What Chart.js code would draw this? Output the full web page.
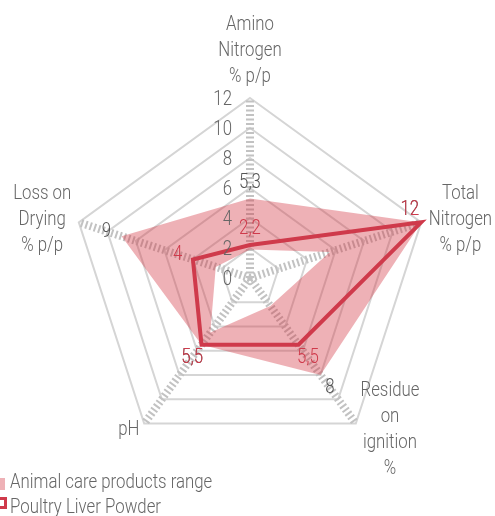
<!DOCTYPE html>
<html>
<head>
<meta charset="utf-8">
<script src="https://cdn.jsdelivr.net/npm/chart.js@4.4.1/dist/chart.umd.min.js"></script>
<style>
  body { margin: 0; background: #fff; }
  #wrap { position: relative; width: 495px; height: 516px; overflow: hidden; }
  .leg { position: absolute; left: 10px; font: 300 21px Roboto, "Liberation Sans", sans-serif; color: #666; line-height: 25px; white-space: nowrap; transform: scaleX(0.8); transform-origin: 0 0; }
  .box { position: absolute; width: 12px; height: 12px; box-sizing: border-box; }
</style>
</head>
<body>
<div id="wrap">
  <canvas id="radar" width="495" height="516"></canvas>
  <div class="box" style="left:-7px;top:478px;background:rgba(212,55,66,0.39)"></div>
  <div class="leg" style="top:469px">Animal care products range</div>
  <div class="box" style="left:-5px;top:497px;border:3px solid #cf3a4b;background:#fff"></div>
  <div class="leg" style="top:494px">Poultry Liver Powder</div>
</div>
<script>
const axisLabels = [
  ["Amino", "Nitrogen", "% p/p"],
  ["Total", "Nitrogen", "% p/p"],
  ["Residue", "on", "ignition", "%"],
  ["pH"],
  ["Loss on", "Drying", "% p/p"]
];
const tickValues = [0, 2, 4, 6, 8, 10, 12];
const rangeMax = [5.3, 12, 8, 5.5, 9];
const rangeMin = [1.9, 5.6, 2.3, 4.5, 2.4];
const poultry = [2.2, 12, 5.5, 5.5, 4];

const FONT = "300 21px Roboto, 'Liberation Sans', sans-serif";
const SX = 0.8; // squeeze to look like the condensed face of the original
const RED = "#cf3a4b";
const GREY = "#666";

const fmt = v => String(v).replace(".", ",");

function text(ctx, s, x, y) {
  ctx.save();
  ctx.translate(x, y);
  ctx.scale(SX, 1);
  ctx.fillText(s, 0, 0);
  ctx.restore();
}

// axis names round the outside, lines centred in each block
const pointLabelsPlugin = {
  id: "pointLabelsCustom",
  afterDraw(chart) {
    const { ctx } = chart;
    const r = chart.scales.r;
    ctx.save();
    ctx.font = FONT;
    ctx.fillStyle = GREY;
    ctx.textAlign = "center";
    ctx.textBaseline = "middle";
    const lh = 26;
    axisLabels.forEach((lines, i) => {
      const p = r.getPointPosition(i, r.drawingArea + 8);
      const w = Math.max(...lines.map(l => ctx.measureText(l).width)) * SX;
      const h = lines.length * lh;
      let cx = p.x;
      if (p.x > r.xCenter + 5) cx = p.x + w / 2;
      else if (p.x < r.xCenter - 5) cx = p.x - w / 2;
      let top = p.y - h / 2;
      if (i === 0) top = p.y - h;
      lines.forEach((l, k) => text(ctx, l, cx, top + lh * k + lh / 2));
    });
    ctx.restore();
  }
};

// tick numbers left of the vertical axis
const tickLabelsPlugin = {
  id: "tickLabelsCustom",
  afterDatasetsDraw(chart) {
    const { ctx } = chart;
    const r = chart.scales.r;
    ctx.save();
    ctx.font = FONT;
    ctx.fillStyle = GREY;
    ctx.textAlign = "right";
    ctx.textBaseline = "middle";
    tickValues.forEach(v => {
      const d = r.getDistanceFromCenterForValue(v);
      text(ctx, String(v), r.xCenter - 18, r.yCenter - d + 2);
    });
    ctx.restore();
  }
};

// value labels next to the points
const valueLabelsPlugin = {
  id: "valueLabels",
  afterDatasetsDraw(chart) {
    const { ctx } = chart;
    const r = chart.scales.r;
    const put = (values, color) => {
      ctx.fillStyle = color;
      values.forEach((v, i) => {
        const d = r.getDistanceFromCenterForValue(v);
        let p;
        if (v >= r.max) {
          p = r.getPointPosition(i, d - 12);
          p = { x: p.x, y: p.y - 16 };
        } else {
          p = r.getPointPosition(i, d + 16);
        }
        text(ctx, fmt(v), p.x, p.y);
      });
    };
    ctx.save();
    ctx.font = FONT;
    ctx.textAlign = "center";
    ctx.textBaseline = "middle";
    put(rangeMax, "#555");
    put(poultry, RED);
    ctx.restore();
  }
};

new Chart(document.getElementById("radar"), {
  type: "radar",
  data: {
    labels: axisLabels.map(l => l.join(" ")),
    datasets: [
      {
        label: "Poultry Liver Powder",
        data: poultry,
        borderColor: RED,
        borderWidth: 4,
        borderJoinStyle: "miter",
        backgroundColor: "transparent",
        fill: false,
        pointRadius: 0
      },
      {
        label: "Animal care products range",
        data: rangeMax,
        borderWidth: 0,
        borderColor: "transparent",
        backgroundColor: "rgba(212,55,66,0.39)",
        fill: "+1",
        pointRadius: 0
      },
      {
        label: "min",
        data: rangeMin,
        borderWidth: 0,
        borderColor: "transparent",
        fill: false,
        pointRadius: 0
      }
    ]
  },
  options: {
    responsive: false,
    animation: false,
    events: [],
    layout: { padding: { left: 70, top: 98, right: 65, bottom: 58 } },
    plugins: {
      legend: { display: false },
      tooltip: { enabled: false }
    },
    scales: {
      r: {
        min: 0,
        max: 12,
        ticks: { display: false, stepSize: 2 },
        grid: { color: "#d5d5d5", lineWidth: 2 },
        angleLines: { color: "#c2c2c2", lineWidth: 8, borderDash: [2, 2.5] },
        pointLabels: { display: false }
      }
    }
  },
  plugins: [pointLabelsPlugin, tickLabelsPlugin, valueLabelsPlugin]
});
</script>
</body>
</html>
